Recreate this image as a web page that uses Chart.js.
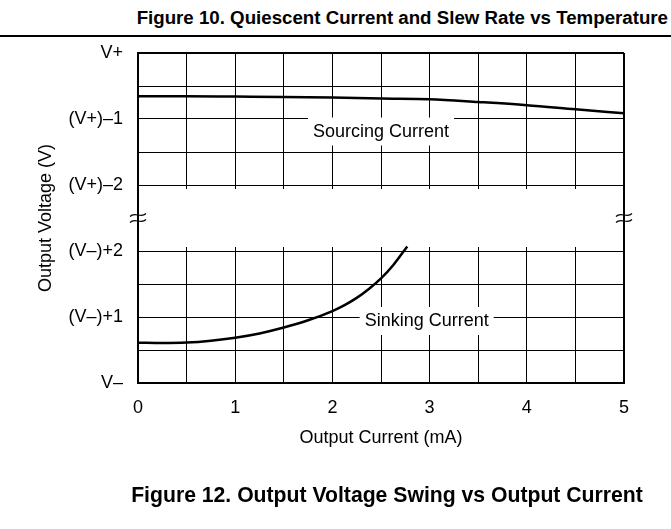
<!DOCTYPE html>
<html><head><meta charset="utf-8">
<script src="https://cdn.jsdelivr.net/npm/chart.js@4"></script>
<style>
html,body{margin:0;padding:0;background:#fff;}
#wrap{position:relative;width:671px;height:529px;overflow:hidden;background:#fff;}
#c{position:absolute;left:0;top:0;}
.t{position:absolute;font-family:"Liberation Sans",Arial,sans-serif;font-weight:bold;white-space:nowrap;color:#000;line-height:1;}
#t1{right:3px;top:9px;font-size:18.7px;}
#rule{position:absolute;left:0;top:35px;width:671px;height:1.5px;background:#000;}
#t2{left:0;width:774px;text-align:center;top:484px;font-size:21.2px;}
</style></head>
<body><div id="wrap">
<div class="t" id="t1">Figure 10. Quiescent Current and Slew Rate vs Temperature</div>
<div id="rule"></div>
<canvas id="c" width="671" height="529"></canvas>
<div class="t" id="t2">Figure 12. Output Voltage Swing vs Output Current</div>
</div>
<script>
// ---- data ----
const sourceCurrent = [0, 0.5, 1, 1.5, 2, 2.5, 3, 3.5, 4, 4.5, 5];           // mA
const sourceDropFromVplus = [0.655, 0.655, 0.66, 0.665, 0.675, 0.69, 0.70, 0.742, 0.79, 0.853, 0.914]; // V below V+
const sinkCurrent = [0, 0.25, 0.5, 0.75, 1, 1.25, 1.5, 1.75, 2, 2.125, 2.25, 2.375, 2.5, 2.625, 2.77]; // mA
const sinkAboveVminus = [0.61, 0.605, 0.612, 0.64, 0.685, 0.75, 0.84, 0.95, 1.09, 1.18, 1.29, 1.425, 1.585, 1.785, 2.07]; // V above V-
const xTickValues = [0, 1, 2, 3, 4, 5];
const yTickLabels = ['V–', '(V–)+1', '(V–)+2', '(V+)–2', '(V+)–1', 'V+'];
const seriesLabels = ['Sourcing Current', 'Sinking Current'];
const xTitle = 'Output Current (mA)';
const yTitle = 'Output Voltage (V)';

// broken axis: 0..2 = V- .. (V-)+2 ; 3..5 = (V+)-2 .. V+ ; 2..3 is the break
const RAIL_TOP = 5;
const BREAK_LO = 2, BREAK_HI = 3;

const FONT = '"Liberation Sans", Arial, sans-serif';

const sourceData = sourceCurrent.map((x, i) => ({x, y: RAIL_TOP - sourceDropFromVplus[i]}));
const sinkData = sinkCurrent.map((x, i) => ({x, y: sinkAboveVminus[i]}));

const labelSpots = [
  {text: seriesLabels[0], x: 2.5, y: 3.81},
  {text: seriesLabels[1], x: 2.97, y: 0.94}
];

const breakPlugin = {
  id: 'breakPlugin',
  beforeDatasetsDraw(chart) {
    const {ctx, chartArea: a, scales: {x, y}} = chart;
    ctx.save();
    ctx.fillStyle = '#fff';
    const yTop = y.getPixelForValue(BREAK_HI) + 4;
    const yBot = y.getPixelForValue(BREAK_LO) - 4;
    ctx.fillRect(a.left + 1, yTop, a.right - a.left - 2, yBot - yTop);
    // labels with white boxes
    ctx.font = '18px ' + FONT;
    ctx.textAlign = 'center';
    ctx.textBaseline = 'middle';
    labelSpots.forEach(l => {
      const px = x.getPixelForValue(l.x), py = y.getPixelForValue(l.y);
      const w = ctx.measureText(l.text).width + 10;
      ctx.fillStyle = '#fff';
      ctx.fillRect(px - w / 2, py - 14, w, 28);
      ctx.fillStyle = '#000';
      ctx.fillText(l.text, px, py);
    });
    ctx.restore();
  },
  afterDraw(chart) {
    const {ctx, chartArea: a, scales: {y}} = chart;
    const ym = y.getPixelForValue((BREAK_LO + BREAK_HI) / 2);
    ctx.save();
    ctx.strokeStyle = '#000';
    ctx.lineWidth = 1.2;
    [a.left, a.right].forEach(xp => {
      [ym - 3, ym + 3].forEach(yy => {
        ctx.beginPath();
        ctx.moveTo(xp - 8, yy + 1.5);
        ctx.bezierCurveTo(xp - 3, yy - 4, xp + 3, yy + 4, xp + 8, yy - 1.5);
        ctx.stroke();
      });
    });
    ctx.restore();
  }
};

new Chart(document.getElementById('c'), {
  type: 'line',
  data: {
    datasets: [
      {label: seriesLabels[0], data: sourceData, borderColor: '#000', borderWidth: 2.5, pointRadius: 0, cubicInterpolationMode: 'monotone', fill: false},
      {label: seriesLabels[1], data: sinkData, borderColor: '#000', borderWidth: 2.5, pointRadius: 0, cubicInterpolationMode: 'monotone', fill: false}
    ]
  },
  options: {
    responsive: false,
    animation: false,
    events: [],
    layout: {padding: {left: 0, top: 53, right: 47, bottom: 80}},
    plugins: {legend: {display: false}, tooltip: {enabled: false}, title: {display: false}},
    scales: {
      x: {
        type: 'linear', min: 0, max: 5,
        afterFit: s => { s.height = 66; },
        ticks: {
          stepSize: 0.5, autoSkip: false, maxRotation: 0, padding: 14,
          color: '#000', font: {family: FONT, size: 18},
          callback: v => xTickValues.includes(v) ? String(v) : ''
        },
        grid: {
          drawTicks: false, color: '#000',
          lineWidth: c => (c.tick && c.tick.value === 5) ? 2 : 1
        },
        border: {display: true, color: '#000', width: 2},
        title: {display: true, text: xTitle, color: '#000', font: {family: FONT, size: 18}, padding: 0}
      },
      y: {
        type: 'linear', min: 0, max: 5,
        afterFit: s => { s.width = 138; },
        ticks: {
          stepSize: 0.5, autoSkip: false, padding: 15,
          color: '#000', font: {family: FONT, size: 18},
          callback: v => Number.isInteger(v) ? yTickLabels[v] : ''
        },
        grid: {
          drawTicks: false,
          color: c => (c.tick && c.tick.value > BREAK_LO && c.tick.value < BREAK_HI) ? 'rgba(0,0,0,0)' : '#000',
          lineWidth: c => (c.tick && c.tick.value === 5) ? 2 : 1
        },
        border: {display: true, color: '#000', width: 2},
        title: {display: true, text: yTitle, color: '#000', font: {family: FONT, size: 18}, padding: {top: 35, bottom: 0}}
      }
    }
  },
  plugins: [breakPlugin]
});
</script>
</body></html>
